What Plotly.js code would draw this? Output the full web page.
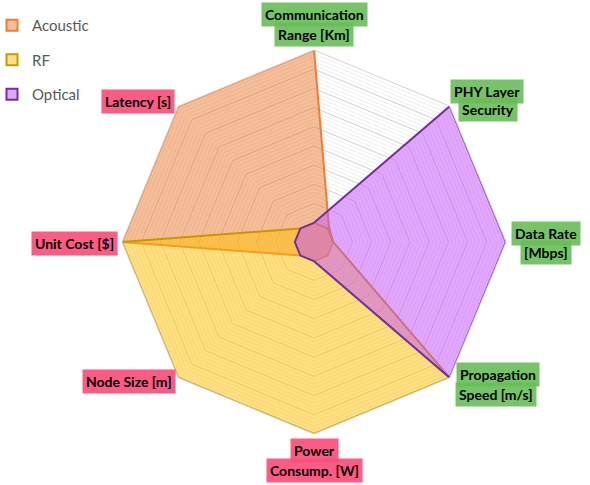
<!DOCTYPE html>
<html><head><meta charset="utf-8">
<script src="https://cdn.plot.ly/plotly-3.0.1.min.js"></script>
<style>html,body{margin:0;padding:0;background:#fff}</style>
</head><body><div id="chart" style="width:590px;height:485px"></div>
<script>
// ---- data ----
const categories = ["Communication Range [Km]","PHY Layer Security","Data Rate [Mbps]","Propagation Speed [m/s]","Power Consump. [W]","Node Size [m]","Unit Cost [$]","Latency [s]"];
const labelLines = [["Communication","Range [Km]"],["PHY Layer","Security"],["Data Rate","[Mbps]"],["Propagation","Speed [m/s]"],["Power","Consump. [W]"],["Node Size [m]"],["Unit Cost [$]"],["Latency [s]"]];
const labelKind = ["benefit","benefit","benefit","benefit","cost","cost","cost","cost"];
const seriesNames = ["Acoustic","RF","Optical"];
const acoustic = [10,1.1,1,1,1,1,10,10];
const rf = [1,1,1,10,10,10,10,1];
const optical = [1,10,10,10,1,1,1,1];

// ---- styles ----
const W = 590, H = 485;
const fills = ["rgba(237,125,49,0.5)","rgba(255,192,0,0.5)","rgba(195,80,255,0.5)"];
const lines = ["#ED7D31","#C49A00","#7030A0"];
const boxColor = {benefit:"rgba(104,190,88,0.9)", cost:"rgba(250,80,125,0.93)"};
// label line centres in pixels
const labelPx = [[[314,14],[314,35]],[[487,91],[488,110]],[[546,233],[546,252]],[[498,374],[496,394]],[[314,450],[314,470]],[[129,381]],[[74,243]],[[138,101]]];

const seriesVals = [acoustic, rf, optical];
const traces = [];
// helper trace so the minor-grid polar subplot gets the categories
traces.push({type:"scatterpolar", subplot:"polar", r:acoustic, theta:categories, mode:"markers",
  marker:{opacity:0}, hoverinfo:"skip", showlegend:false});
seriesVals.forEach((v,i)=>{
  traces.push({type:"scatterpolar", subplot:"polar2", name:seriesNames[i],
    r:v.concat([v[0]]), theta:categories.concat([categories[0]]),
    mode:"lines", fill:"toself", fillcolor:fills[i],
    line:{color:lines[i], width:2}, showlegend:false});
});
seriesNames.forEach((n,i)=>{
  traces.push({type:"scatterpolar", subplot:"polar2", name:n, r:[null], theta:[categories[0]],
    mode:"markers", legendgroup:n,
    marker:{symbol:"square", size:11, color:fills[i], line:{color:lines[i], width:2}}});
});

const annotations = [];
labelLines.forEach((ls,i)=>{
  ls.forEach((t,j)=>{
    const p = labelPx[i][j];
    annotations.push({text:t, x:p[0]/W, y:1-p[1]/H, xref:"paper", yref:"paper",
      xanchor:"center", yanchor:"middle", showarrow:false,
      bgcolor:boxColor[labelKind[i]], borderpad:3,
      font:{family:"Lato, 'Open Sans', sans-serif", size:14, color:"#000", weight:"bold"}});
  });
});

const dom = {x:[122/W, 506/W], y:[1-434/H, 1-50/H]};
const baseAng = {direction:"clockwise", rotation:90, showticklabels:false, ticks:"", showgrid:false, type:"category"};
const layout = {
  width:W, height:H, margin:{l:0,r:0,t:0,b:0, autoexpand:false}, paper_bgcolor:"#fff",
  showlegend:true,
  legend:{x:-8/W, y:1-9/H, xanchor:"left", yanchor:"top", tracegroupgap:12,
    font:{family:"Lato, 'Open Sans', sans-serif", size:15, color:"#595959"}, bgcolor:"rgba(0,0,0,0)"},
  polar:{domain:dom, gridshape:"linear", bgcolor:"rgba(0,0,0,0)",
    radialaxis:{range:[0,10], autorange:false, tick0:0, dtick:0.2, showticklabels:false, ticks:"", showline:false, gridcolor:"#eeeeee", gridwidth:1},
    angularaxis:Object.assign({showline:false}, baseAng)},
  polar2:{domain:dom, gridshape:"linear", bgcolor:"rgba(0,0,0,0)",
    radialaxis:{range:[0,10], autorange:false, tick0:0, dtick:1, showticklabels:false, ticks:"", showline:false, gridcolor:"#d4d4d4", gridwidth:1},
    angularaxis:Object.assign({showline:true, linecolor:"#d4d4d4", linewidth:1}, baseAng)},
  annotations:annotations
};
Plotly.newPlot("chart", traces, layout, {displayModeBar:false, staticPlot:true});
</script></body></html>
